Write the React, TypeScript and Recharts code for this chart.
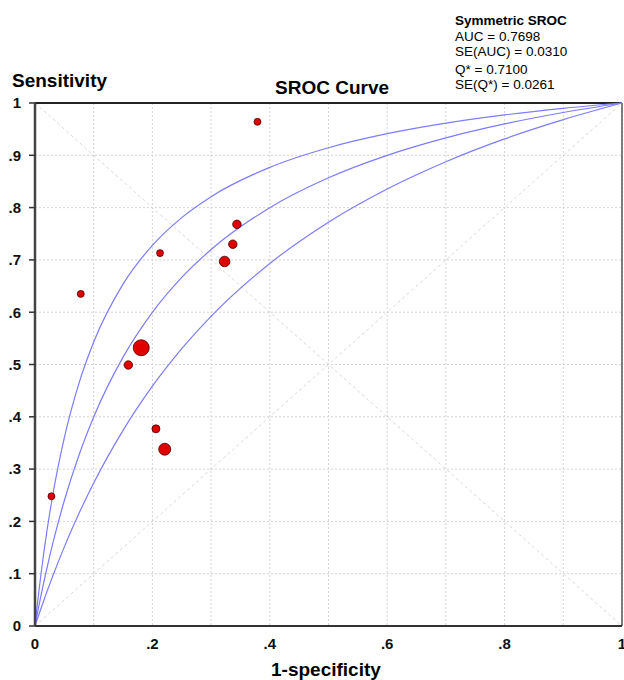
import React from "react"
import { ComposedChart, Line, Scatter, XAxis, YAxis, ZAxis, CartesianGrid, ReferenceLine } from "recharts"

// study points: 1-specificity, sensitivity, study weight
const studyFpr = [0.028, 0.078, 0.159, 0.181, 0.206, 0.213, 0.221, 0.323, 0.337, 0.344, 0.379]
const studySens = [0.248, 0.635, 0.499, 0.532, 0.377, 0.713, 0.338, 0.697, 0.730, 0.768, 0.964]
const studyWeight = [12, 12, 18, 64, 16, 12, 36, 28, 18, 18, 12]

// SROC curve and its upper / lower bands
const curveFpr = [0, 0.005, 0.01, 0.02, 0.03, 0.05, 0.075, 0.1, 0.15, 0.2, 0.25, 0.3, 0.4, 0.5, 0.6, 0.7, 0.8, 0.9, 1]
const midSens = [0, 0.0292, 0.0571, 0.109, 0.1564, 0.2399, 0.3271, 0.3998, 0.5141, 0.5998, 0.6665, 0.7198, 0.7999, 0.857, 0.8999, 0.9333, 0.96, 0.9818, 1]
const upperSens = [0, 0.051, 0.0975, 0.1792, 0.2486, 0.3602, 0.4644, 0.543, 0.6537, 0.7278, 0.7809, 0.8209, 0.877, 0.9145, 0.9413, 0.9615, 0.9772, 0.9897, 1]
const lowerSens = [0, 0.0167, 0.0331, 0.0647, 0.0948, 0.1513, 0.2155, 0.2735, 0.3741, 0.4585, 0.5303, 0.5921, 0.6931, 0.7721, 0.8356, 0.8877, 0.9313, 0.9682, 1]

const gridTicks = [0, 0.1, 0.2, 0.3, 0.4, 0.5, 0.6, 0.7, 0.8, 0.9, 1]
const xTickLabels = ["0", "", ".2", "", ".4", "", ".6", "", ".8", "", "1"]
const yTickLabels = ["0", ".1", ".2", ".3", ".4", ".5", ".6", ".7", ".8", ".9", "1"]

const statsTitle = "Symmetric SROC"
const statsLines = ["AUC = 0.7698", "SE(AUC) = 0.0310", "Q* = 0.7100", "SE(Q*) = 0.0261"]

const curveData = curveFpr.map((x, i) => ({ x, mid: midSens[i], upper: upperSens[i], lower: lowerSens[i] }))
const studies = studyFpr.map((x, i) => ({ x, y: studySens[i], w: studyWeight[i] }))

const font = "'Liberation Sans', Arial, sans-serif"
const curveColor = "#7c7cff"

const abs = (left: number, top: number, extra: React.CSSProperties = {}): React.CSSProperties => ({
  position: "absolute",
  left,
  top,
  fontFamily: font,
  color: "#000",
  whiteSpace: "nowrap",
  ...extra,
})

export default function App() {
  const statTops = [43, 58, 76, 91]
  return (
    <div style={{ position: "absolute", left: 0, top: 0, width: 624, height: 680, background: "#fff", overflow: "hidden" }}>
      <ComposedChart width={624} height={680} data={curveData} margin={{ top: 103, right: 2, bottom: 24, left: 0 }}>
        <CartesianGrid stroke="#d4d4d4" strokeDasharray="2 2" />
        <XAxis
          dataKey="x"
          type="number"
          domain={[0, 1]}
          ticks={gridTicks}
          interval={0}
          height={30}
          tickLine={false}
          tickSize={6}
          tickMargin={6}
          axisLine={{ stroke: "#333", strokeWidth: 2 }}
          tick={{ fill: "#111", fontSize: 15, fontWeight: "bold", fontFamily: font }}
          tickFormatter={(v, i) => xTickLabels[i]}
        />
        <YAxis
          type="number"
          domain={[0, 1]}
          ticks={gridTicks}
          interval={0}
          width={35}
          tickSize={6}
          tickMargin={8}
          tickLine={{ stroke: "#333", strokeWidth: 1.5 }}
          axisLine={{ stroke: "#444", strokeWidth: 2.5 }}
          tick={{ fill: "#111", fontSize: 15, fontWeight: "bold", fontFamily: font }}
          tickFormatter={(v, i) => yTickLabels[i]}
        />
        <ZAxis dataKey="w" type="number" domain={[0, 64]} range={[0, 201]} />
        <ReferenceLine segment={[{ x: 0, y: 0 }, { x: 1, y: 1 }]} stroke="#d8d8d8" strokeDasharray="3 3" />
        <ReferenceLine segment={[{ x: 0, y: 1 }, { x: 1, y: 0 }]} stroke="#d8d8d8" strokeDasharray="3 3" />
        <ReferenceLine y={1} stroke="#222" strokeWidth={2} />
        <ReferenceLine x={1} stroke="#555" strokeWidth={1.5} />
        <Line dataKey="upper" type="monotone" stroke={curveColor} strokeWidth={1.2} dot={false} isAnimationActive={false} />
        <Line dataKey="mid" type="monotone" stroke={curveColor} strokeWidth={1.2} dot={false} isAnimationActive={false} />
        <Line dataKey="lower" type="monotone" stroke={curveColor} strokeWidth={1.2} dot={false} isAnimationActive={false} />
        <Scatter data={studies} dataKey="y" fill="#e00000" stroke="#4a0000" strokeWidth={0.8} isAnimationActive={false} />
      </ComposedChart>

      <div style={abs(12, 70, { fontSize: 19, fontWeight: "bold", lineHeight: "22px" })}>Sensitivity</div>
      <div style={abs(275, 77, { fontSize: 19, fontWeight: "bold", lineHeight: "22px" })}>SROC Curve</div>
      <div style={abs(271, 659, { fontSize: 19, fontWeight: "bold", lineHeight: "22px" })}>1-specificity</div>

      <div style={abs(455, 13, { fontSize: 13.5, fontWeight: "bold", lineHeight: "16px" })}>{statsTitle}</div>
      {statsLines.map((s, i) => (
        <div key={s} style={abs(455, statTops[i] - 14, { fontSize: 13.5, lineHeight: "16px" })}>
          {s}
        </div>
      ))}
    </div>
  )
}
